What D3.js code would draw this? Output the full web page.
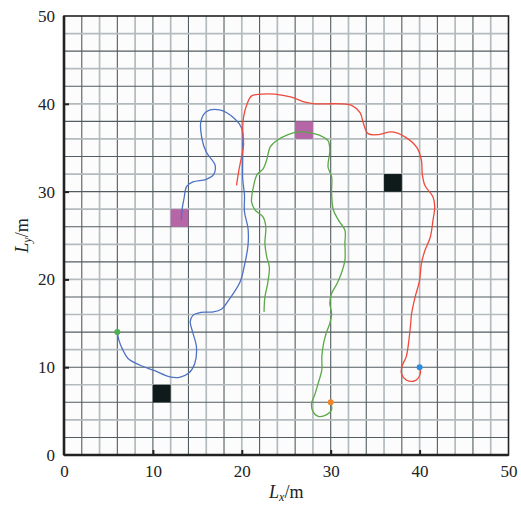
<!DOCTYPE html>
<html>
<head>
<meta charset="utf-8">
<script src="https://cdn.jsdelivr.net/npm/d3@7"></script>
<style>
  html, body { margin: 0; padding: 0; background: #ffffff; }
  svg { display: block; }
  svg text { font-family: "Liberation Serif", "Times New Roman", Times, serif; fill: #222; }
</style>
</head>
<body>
<div id="chart"></div>
<script>
// Axis ticks
const xTicks = [0, 10, 20, 30, 40, 50];
const yTicks = [0, 10, 20, 30, 40, 50];

// Grid cell size (m)
const gridStep = 2;

// Obstacles: lower-left corner of each 2 m x 2 m cell
const obstacleX = [10, 36];
const obstacleY = [6, 30];
// Goal cells
const goalX = [12, 26];
const goalY = [26, 36];

// Trajectory 1 (blue), start marked in green
const blueX = [6.0, 6.2, 6.6, 7.2, 8.5, 10.2, 11.9, 13.0, 14.0, 14.7, 14.9, 14.5, 14.2, 14.5, 15.4, 16.8, 17.7, 18.5, 19.8, 20.3, 20.7, 20.7, 20.3, 20.3, 20.1, 20.1, 20.1, 20.0, 19.2, 17.5, 16.0, 15.4, 15.5, 16.0, 17.0, 16.8, 16.0, 14.5, 13.8, 13.5, 13.3, 13.2];
const blueY = [14.0, 13.0, 12.0, 11.0, 10.25, 9.6, 8.9, 8.85, 9.3, 10.4, 12.3, 13.9, 15.2, 15.9, 16.25, 16.3, 16.6, 17.6, 19.7, 21.6, 23.9, 25.8, 27.7, 29.6, 31.5, 33.4, 35.3, 37.2, 38.3, 39.3, 39.1, 38.0, 36.1, 34.5, 33.0, 31.9, 31.4, 31.1, 30.6, 29.2, 28.1, 26.8];

// Trajectory 2 (green), start marked in orange
const greenX = [30.0, 30.1, 29.55, 28.6, 28.0, 27.85, 28.2, 28.6, 29.0, 29.0, 29.2, 29.5, 29.9, 30.1, 29.9, 30.1, 30.7, 31.2, 31.6, 31.6, 31.6, 30.9, 30.3, 30.1, 30.1, 29.7, 29.9, 29.7, 28.8, 27.7, 26.5, 25.2, 23.9, 23.2, 22.8, 22.4, 21.7, 21.3, 21.1, 21.5, 22.4, 22.7, 22.6, 22.8, 23.1, 22.9, 22.6, 22.5];
const greenY = [6.0, 5.15, 4.6, 4.4, 4.95, 5.9, 6.85, 8.2, 9.7, 11.2, 12.7, 13.9, 15.0, 16.1, 17.3, 18.4, 19.5, 20.7, 22.2, 24.1, 25.6, 26.7, 27.9, 29.8, 31.7, 32.8, 34.7, 35.8, 36.4, 36.7, 36.8, 36.5, 35.8, 35.1, 33.6, 32.6, 31.9, 30.5, 28.8, 27.9, 27.1, 26.0, 24.1, 22.6, 21.4, 19.5, 18.0, 16.3];

// Trajectory 3 (red), start marked in blue
const redX = [40.0, 40.1, 39.8, 39.3, 38.5, 37.95, 38.05, 38.5, 38.8, 39.0, 39.1, 39.5, 40.0, 40.2, 40.6, 41.2, 41.5, 41.7, 41.5, 40.6, 40.3, 40.2, 39.7, 38.4, 36.9, 35.4, 34.2, 33.7, 33.3, 32.4, 31.0, 29.7, 28.2, 27.1, 25.6, 23.7, 22.2, 21.1, 20.6, 20.2, 20.1, 20.2, 20.0, 19.7, 19.4];
const redY = [10.0, 9.4, 8.7, 8.4, 8.55, 9.3, 10.2, 11.2, 13.1, 15.0, 16.1, 18.0, 19.9, 21.8, 23.3, 24.8, 26.7, 28.3, 29.4, 30.7, 32.0, 33.6, 35.0, 36.2, 36.8, 36.5, 36.6, 37.7, 39.0, 39.8, 40.0, 40.0, 40.0, 40.2, 40.75, 41.1, 41.1, 40.9, 40.0, 38.5, 37.2, 35.3, 34.1, 32.6, 30.7];

const W = 521, H = 507;
const margin = { left: 64, right: 12.5, top: 16, bottom: 52 };
const iw = W - margin.left - margin.right;
const ih = H - margin.top - margin.bottom;
const serif = "'Liberation Serif', 'Times New Roman', Times, serif";

const x = d3.scaleLinear().domain([0, 50]).range([0, iw]);
const y = d3.scaleLinear().domain([0, 50]).range([ih, 0]);

const svg = d3.select("#chart").append("svg")
  .attr("width", W).attr("height", H);

const g = svg.append("g").attr("transform", `translate(${margin.left},${margin.top})`);

// plot background
g.append("rect").attr("width", iw).attr("height", ih).attr("fill", "#fcfcfc");

// grid: every other line drawn darker
const gridVals = d3.range(gridStep, 50, gridStep);
const isDark = d => (d / gridStep) % 2 === 1;
const gridColor = d => isDark(d) ? "#525d61" : "#b3bbbe";
const gridWidth = d => isDark(d) ? 1.1 : 1.7;
g.append("g").selectAll("line").data(gridVals).join("line")
  .attr("x1", d => x(d)).attr("x2", d => x(d))
  .attr("y1", 0).attr("y2", ih)
  .attr("stroke", gridColor).attr("stroke-width", gridWidth);
g.append("g").selectAll("line").data(gridVals).join("line")
  .attr("y1", d => y(d)).attr("y2", d => y(d))
  .attr("x1", 0).attr("x2", iw)
  .attr("stroke", gridColor).attr("stroke-width", gridWidth);

// obstacle and goal cells
const cell = (xs, ys, color) => {
  g.append("g").selectAll("rect").data(xs.map((v, i) => [v, ys[i]])).join("rect")
    .attr("x", d => x(d[0])).attr("y", d => y(d[1] + gridStep))
    .attr("width", x(gridStep) - x(0)).attr("height", y(0) - y(gridStep))
    .attr("fill", color);
};
cell(obstacleX, obstacleY, "#0f1b1a");
cell(goalX, goalY, "#b665a6");

// trajectories
const line = d3.line().x(d => x(d[0])).y(d => y(d[1])).curve(d3.curveCatmullRom.alpha(0.5));
const drawPath = (xs, ys, color) => {
  g.append("path").datum(xs.map((v, i) => [v, ys[i]]))
    .attr("d", line).attr("fill", "none")
    .attr("stroke", color).attr("stroke-width", 1.3);
};
drawPath(blueX, blueY, "#4d72c4");
drawPath(greenX, greenY, "#5aa847");
drawPath(redX, redY, "#ef4a3c");

// start markers
const starts = [[blueX[0], blueY[0], "#4caf50"], [greenX[0], greenY[0], "#f0862a"], [redX[0], redY[0], "#2d8ee0"]];
g.append("g").selectAll("circle").data(starts).join("circle")
  .attr("cx", d => x(d[0])).attr("cy", d => y(d[1])).attr("r", 3)
  .attr("fill", d => d[2]);

// axes
const xAxis = d3.axisBottom(x).tickValues(xTicks).tickSize(-5).tickPadding(10).tickSizeOuter(0);
const yAxis = d3.axisLeft(y).tickValues(yTicks).tickSize(-5).tickPadding(9).tickSizeOuter(0);

const gx = g.append("g").attr("transform", `translate(0,${ih})`).call(xAxis);
const gy = g.append("g").call(yAxis);
[gx, gy].forEach(a => {
  a.attr("font-family", serif).attr("font-size", 17);
  a.select(".domain").remove();
  a.selectAll(".tick line").attr("stroke", "#222").attr("stroke-width", 2);
  a.selectAll(".tick text").style("font-family", serif).attr("fill", "#222");
});
gx.selectAll(".tick").filter(d => d === 0 || d === 50).select("line").remove();
gy.selectAll(".tick").filter(d => d === 0 || d === 50).select("line").remove();

// frame
g.append("rect").attr("width", iw).attr("height", ih)
  .attr("fill", "none").attr("stroke", "#222").attr("stroke-width", 1.6);
g.append("line").attr("x1", 0).attr("x2", 0).attr("y1", 0).attr("y2", ih)
  .attr("stroke", "#222").attr("stroke-width", 2.6);
g.append("line").attr("x1", 0).attr("x2", iw).attr("y1", ih).attr("y2", ih)
  .attr("stroke", "#222").attr("stroke-width", 2.6);

// axis titles
const xt = svg.append("text")
  .attr("x", margin.left + iw / 2).attr("y", 498)
  .attr("text-anchor", "middle").attr("font-size", 18).style("font-family", serif);
xt.append("tspan").attr("font-style", "italic").text("L");
xt.append("tspan").attr("font-style", "italic").attr("font-size", 12).attr("dy", 3).text("x");
xt.append("tspan").attr("dy", -3).text("/m");

const yt = svg.append("text")
  .attr("transform", `translate(28,${margin.top + ih / 2}) rotate(-90)`)
  .attr("text-anchor", "middle").attr("font-size", 18).style("font-family", serif);
yt.append("tspan").attr("font-style", "italic").text("L");
yt.append("tspan").attr("font-style", "italic").attr("font-size", 12).attr("dy", 3).text("y");
yt.append("tspan").attr("dy", -3).text("/m");
</script>
</body>
</html>
